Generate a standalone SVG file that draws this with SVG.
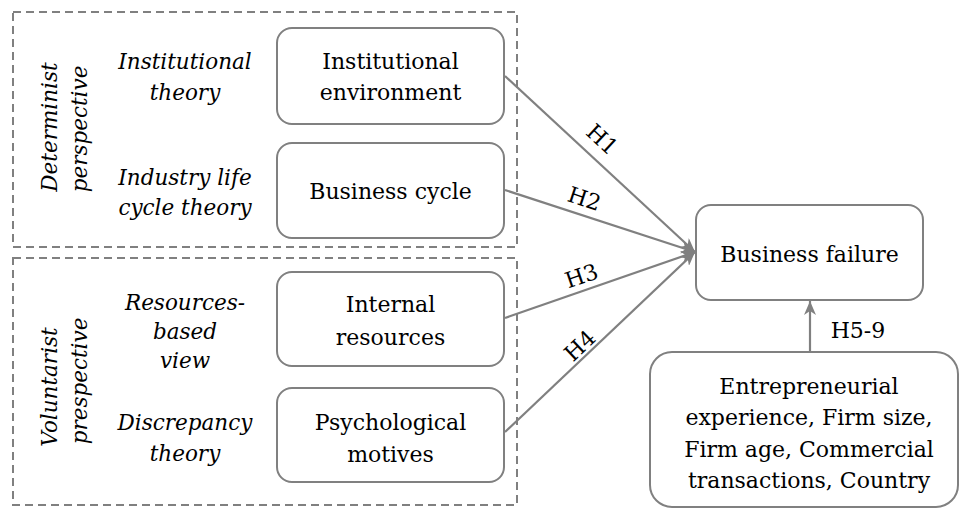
<svg xmlns="http://www.w3.org/2000/svg" width="959" height="509" viewBox="0 0 959 509">
<style>
.t{font-family:"DejaVu Serif",serif;font-size:22px;fill:#000;text-anchor:middle}
.it{font-style:italic;font-size:21.5px}
.grp{fill:none;stroke:#808080;stroke-width:2;stroke-dasharray:8 5}
.box{fill:#fff;stroke:#808080;stroke-width:2}
.edge{fill:none;stroke:#808080;stroke-width:2.2}
</style>
<defs>
<marker id="ah" viewBox="0 0 14 12" refX="14" refY="6" markerWidth="14" markerHeight="12" markerUnits="userSpaceOnUse" orient="auto">
<path d="M0,0 L14,6 L0,12 L4,6 Z" fill="#808080"/>
</marker>
</defs>
<g id="group-determinist">
<rect class="grp" x="13" y="12" width="504" height="235"/>
<text class="t it" transform="translate(57,127) rotate(-90)">Determinist</text>
<text class="t it" transform="translate(87,129) rotate(-90)">perspective</text>
<text class="t it" x="185" y="69">Institutional</text>
<text class="t it" x="185" y="100">theory</text>
<text class="t it" x="185" y="185">Industry life</text>
<text class="t it" x="185" y="215">cycle theory</text>
</g>
<g id="group-voluntarist">
<rect class="grp" x="13" y="258" width="504" height="247"/>
<text class="t it" transform="translate(57,387) rotate(-90)">Voluntarist</text>
<text class="t it" transform="translate(87,381) rotate(-90)">prespective</text>
<text class="t it" x="185" y="310">Resources-</text>
<text class="t it" x="185" y="339">based</text>
<text class="t it" x="185" y="368">view</text>
<text class="t it" x="185" y="430">Discrepancy</text>
<text class="t it" x="185" y="461">theory</text>
</g>
<g id="connectors">
<line class="edge" x1="505" y1="76" x2="695" y2="252" marker-end="url(#ah)"/>
<line class="edge" x1="505" y1="190" x2="695" y2="252" marker-end="url(#ah)"/>
<line class="edge" x1="505" y1="318" x2="695" y2="252" marker-end="url(#ah)"/>
<line class="edge" x1="505" y1="432" x2="695" y2="252" marker-end="url(#ah)"/>
<line class="edge" x1="810" y1="352" x2="810" y2="301" marker-end="url(#ah)"/>
<text class="t" transform="translate(597,145) rotate(43)">H1</text>
<text class="t" transform="translate(582,206) rotate(18.3)">H2</text>
<text class="t" transform="translate(584,283) rotate(-18.9)">H3</text>
<text class="t" transform="translate(585,351) rotate(-43.3)">H4</text>
<text class="t" x="858" y="338">H5-9</text>
</g>
<g id="node-institutional-environment">
<rect class="box" x="277" y="28" width="227" height="96" rx="15"/>
<text class="t" x="390.5" y="69">Institutional</text>
<text class="t" x="390.5" y="100">environment</text>
</g>
<g id="node-business-cycle">
<rect class="box" x="277" y="143" width="227" height="95" rx="15"/>
<text class="t" x="390.5" y="199">Business cycle</text>
</g>
<g id="node-internal-resources">
<rect class="box" x="277" y="272" width="227" height="94" rx="15"/>
<text class="t" x="390.5" y="312">Internal</text>
<text class="t" x="390.5" y="345">resources</text>
</g>
<g id="node-psychological-motives">
<rect class="box" x="277" y="388" width="227" height="94" rx="15"/>
<text class="t" x="390.5" y="430">Psychological</text>
<text class="t" x="390.5" y="462">motives</text>
</g>
<g id="node-business-failure">
<rect class="box" x="696" y="205" width="227" height="95" rx="15"/>
<text class="t" x="809.5" y="262">Business failure</text>
</g>
<g id="node-controls">
<rect class="box" x="650" y="352" width="308" height="155" rx="22"/>
<text class="t" x="809" y="394">Entrepreneurial</text>
<text class="t" x="809" y="425">experience, Firm size,</text>
<text class="t" x="809" y="457">Firm age, Commercial</text>
<text class="t" x="809" y="488">transactions, Country</text>
</g>
</svg>
